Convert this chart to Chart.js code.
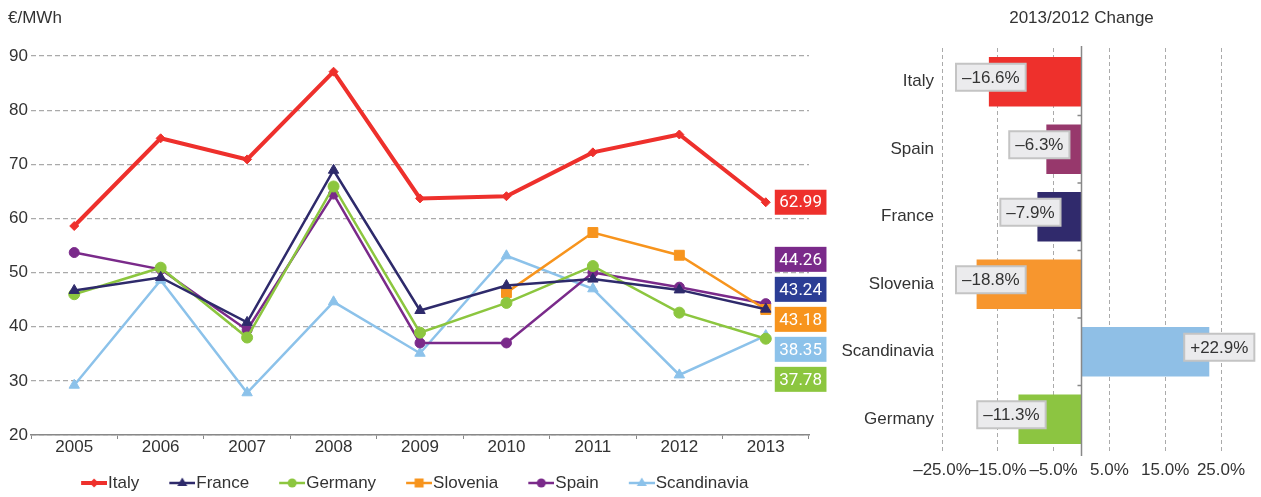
<!DOCTYPE html>
<html>
<head>
<meta charset="utf-8">
<script src="https://cdn.jsdelivr.net/npm/chart.js@4.4.1/dist/chart.umd.min.js"></script>
<style>
  html, body { margin: 0; padding: 0; background: #fff; }
  #wrap { position: relative; width: 1261px; height: 497px; }
  #priceBox { position: absolute; left: 0; top: 0; width: 830px; height: 497px; }
  #changeBox { position: absolute; left: 830px; top: 0; width: 431px; height: 497px; }
</style>
</head>
<body>
<div id="wrap">
  <div id="priceBox"><canvas id="priceChart"></canvas></div>
  <div id="changeBox"><canvas id="changeChart"></canvas></div>
</div>
<script>
// Prices, EUR/MWh
var years = ["2005", "2006", "2007", "2008", "2009", "2010", "2011", "2012", "2013"];
var italy = [58.6, 74.8, 70.9, 87.1, 63.7, 64.1, 72.2, 75.5, 62.99];
var france = [46.7, 49.1, 40.8, 68.9, 43.0, 47.6, 48.8, 46.8, 43.24];
var germany = [46.0, 50.9, 38.0, 65.9, 38.9, 44.4, 51.2, 42.6, 37.78];
var slovenia = [null, null, null, null, null, 46.3, 57.4, 53.2, 43.18];
var spain = [53.7, 50.6, 39.4, 64.5, 37.0, 37.0, 50.0, 47.3, 44.26];
var scandinavia = [29.2, 48.6, 27.8, 44.6, 35.1, 53.1, 47.0, 31.1, 38.35];

// 2013/2012 change, %
var changeCountries = ["Italy", "Spain", "France", "Slovenia", "Scandinavia", "Germany"];
var changeValues = [-16.6, -6.3, -7.9, -18.8, 22.9, -11.3];
var changeTicks = [-25, -15, -5, 5, 15, 25];

var lineColors = ["#ee302c", "#2e2a6b", "#8cc63f", "#f7941d", "#7a2a8a", "#8cc2ea"];
var tagColors = ["#ee302c", "#2b3d95", "#8cc63f", "#f7941d", "#7a2a8a", "#8cc2ea"];
var barColors = ["#ee302c", "#97386c", "#302a6c", "#f7962e", "#8fbfe6", "#8cc541"];

Chart.defaults.font.family = "'Liberation Sans', Arial, sans-serif";
Chart.defaults.font.size = 17;
Chart.defaults.color = "#333";

// legend icon: line with marker, blank lead on the left for item spacing
function legendIcon(color, style, lw) {
  var lead = 20;
  var c = document.createElement("canvas");
  c.width = 26 + lead;
  c.height = 14;
  var g = c.getContext("2d");
  var m = lead + 13;
  g.strokeStyle = color;
  g.fillStyle = color;
  g.lineWidth = lw;
  g.beginPath();
  g.moveTo(lead, 7);
  g.lineTo(lead + 26, 7);
  g.stroke();
  g.beginPath();
  if (style === "circle") {
    g.arc(m, 7, 4.5, 0, Math.PI * 2);
  } else if (style === "triangle") {
    g.moveTo(m, 1.5);
    g.lineTo(m + 5, 10);
    g.lineTo(m - 5, 10);
  } else if (style === "rect") {
    g.rect(m - 4.5, 2.5, 9, 9);
  } else {
    g.moveTo(m, 2.5);
    g.lineTo(m + 4.5, 7);
    g.lineTo(m, 11.5);
    g.lineTo(m - 4.5, 7);
  }
  g.closePath();
  g.fill();
  return c;
}

function series(label, data, i, style, radius, width) {
  return {
    label: label,
    data: data,
    borderColor: lineColors[i],
    backgroundColor: lineColors[i],
    pointBackgroundColor: lineColors[i],
    pointBorderColor: lineColors[i],
    pointStyle: style,
    pointRadius: radius,
    pointBorderWidth: 1,
    borderWidth: width,
    tension: 0,
    spanGaps: false,
    icon: legendIcon(lineColors[i], style, width)
  };
}

// end-of-line value tags, pushed apart so they do not overlap
var endLabels = {
  id: "endLabels",
  afterDatasetsDraw: function (chart) {
    var ctx = chart.ctx;
    var items = chart.data.datasets.map(function (ds, i) {
      var pts = chart.getDatasetMeta(i).data;
      var last = pts[pts.length - 1];
      return { v: ds.data[ds.data.length - 1], x: last.x, y: last.y, color: tagColors[i] };
    });
    items.sort(function (a, b) { return a.y - b.y; });
    var gap = 30;
    for (var k = 0; k < 200; k++) {
      for (var j = 1; j < items.length; j++) {
        var d = items[j].y - items[j - 1].y;
        if (d < gap) {
          var push = (gap - d) / 2;
          items[j].y += push;
          items[j - 1].y -= push;
        }
      }
    }
    ctx.save();
    ctx.font = "17px Roboto";
    ctx.textBaseline = "middle";
    items.forEach(function (it) {
      var text = it.v.toFixed(2);
      var w = ctx.measureText(text).width + 9;
      var left = it.x + 9;
      ctx.fillStyle = it.color;
      ctx.fillRect(left, it.y - 12.5, w, 25);
      ctx.fillStyle = "#fff";
      ctx.fillText(text, left + 4.5, it.y + 1);
    });
    ctx.restore();
  }
};

var priceCtx = document.getElementById("priceChart").getContext("2d");
var priceChart = new Chart(priceCtx, {
  type: "line",
  data: {
    labels: years,
    datasets: [
      series("Italy", italy, 0, "rectRot", 4.5, 4),
      series("France", france, 1, "triangle", 6, 2.5),
      series("Germany", germany, 2, "circle", 5.5, 2.5),
      series("Slovenia", slovenia, 3, "rect", 7, 2.5),
      series("Spain", spain, 4, "circle", 5, 2.5),
      series("Scandinavia", scandinavia, 5, "triangle", 6, 2.5)
    ]
  },
  options: {
    responsive: true,
    maintainAspectRatio: false,
    animation: false,
    layout: { padding: { left: 8, right: 21, top: 0, bottom: 0 } },
    plugins: {
      tooltip: { enabled: false },
      title: {
        display: true,
        text: "€/MWh",
        align: "start",
        color: "#333",
        font: { size: 17, weight: "normal" },
        padding: { top: 8, bottom: 27.6 }
      },
      legend: {
        position: "bottom",
        maxHeight: 40,
        labels: {
          usePointStyle: true,
          pointStyleWidth: 31,
          padding: 17.5,
          color: "#333",
          font: { size: 17 },
          generateLabels: function (chart) {
            return chart.data.datasets.map(function (ds, i) {
              return {
                text: ds.label,
                fillStyle: ds.borderColor,
                strokeStyle: ds.borderColor,
                lineWidth: 0,
                pointStyle: ds.icon,
                hidden: false,
                datasetIndex: i,
                fontColor: "#333"
              };
            });
          }
        }
      }
    },
    scales: {
      x: {
        offset: true,
        grid: { offset: true, drawOnChartArea: false, drawTicks: true, tickLength: 4, color: "#888" },
        border: { display: true, color: "#888", width: 1.5 },
        ticks: { padding: 0, color: "#333", font: { size: 17, lineHeight: 1 } },
        afterFit: function (scale) { scale.height = 22; }
      },
      y: {
        min: 20,
        max: 90,
        ticks: { stepSize: 10, padding: 3, color: "#333", font: { size: 17 } },
        grid: { color: "#aaa", drawTicks: false, lineWidth: 1.2 },
        border: { display: false, dash: [5, 3] },
        afterFit: function (scale) { scale.width = 23; }
      }
    }
  },
  plugins: [endLabels]
});

// zero line with category tick marks
var zeroLine = {
  id: "zeroLine",
  afterDatasetsDraw: function (chart) {
    var ctx = chart.ctx;
    var xs = chart.scales.x;
    var ys = chart.scales.y;
    var x0 = xs.getPixelForValue(0);
    ctx.save();
    ctx.strokeStyle = "#888";
    ctx.lineWidth = 1.5;
    ctx.beginPath();
    ctx.moveTo(x0, chart.chartArea.top - 2);
    ctx.lineTo(x0, chart.chartArea.bottom + 3);
    for (var i = 1; i < changeCountries.length; i++) {
      var y = (ys.getPixelForValue(i - 1) + ys.getPixelForValue(i)) / 2;
      ctx.moveTo(x0 - 4, y);
      ctx.lineTo(x0, y);
    }
    ctx.stroke();
    ctx.restore();
  }
};

var barLabels = {
  id: "barLabels",
  afterDatasetsDraw: function (chart) {
    var ctx = chart.ctx;
    var meta = chart.getDatasetMeta(0);
    ctx.save();
    ctx.font = "17px 'Liberation Sans'";
    ctx.textAlign = "center";
    ctx.textBaseline = "middle";
    meta.data.forEach(function (bar, i) {
      var v = changeValues[i];
      var text = (v > 0 ? "+" : "\u2013") + Math.abs(v).toFixed(1) + "%";
      var w = ctx.measureText(text).width + 12;
      var h = 27;
      var cx = bar.x + (v > 0 ? 10 : -7);
      // keep the tag clear of the category names
      cx = Math.max(cx, chart.chartArea.left + 14 + w / 2);
      var cy = bar.y - 4.5;
      ctx.fillStyle = "#ebebed";
      ctx.fillRect(cx - w / 2, cy - h / 2, w, h);
      ctx.strokeStyle = "#c4c4c4";
      ctx.lineWidth = 2;
      ctx.strokeRect(cx - w / 2, cy - h / 2, w, h);
      ctx.fillStyle = "#333";
      ctx.fillText(text, cx, cy + 1);
    });
    ctx.restore();
  }
};

var changeCtx = document.getElementById("changeChart").getContext("2d");
var changeChart = new Chart(changeCtx, {
  type: "bar",
  data: {
    labels: changeCountries,
    datasets: [
      {
        data: changeValues,
        backgroundColor: barColors,
        borderWidth: 0,
        barPercentage: 0.73,
        categoryPercentage: 1
      }
    ]
  },
  options: {
    indexAxis: "y",
    responsive: true,
    maintainAspectRatio: false,
    animation: false,
    layout: { padding: { left: 0, right: 40, top: 0, bottom: 0 } },
    plugins: {
      legend: { display: false },
      tooltip: { enabled: false },
      title: {
        display: true,
        text: "2013/2012 Change",
        fullSize: false,
        color: "#333",
        font: { size: 17, weight: "normal" },
        padding: { top: 8, bottom: 19.6 }
      }
    },
    scales: {
      x: {
        min: -25,
        max: 25,
        afterBuildTicks: function (scale) {
          scale.ticks = changeTicks.map(function (v) { return { value: v }; });
        },
        ticks: {
          autoSkip: false,
          maxRotation: 0,
          padding: 8.5,
          color: "#333",
          font: { size: 17, lineHeight: 1 },
          callback: function (v) {
            return (v < 0 ? "\u2013" : "") + Math.abs(v).toFixed(1) + "%";
          }
        },
        grid: { color: "#aaa", drawTicks: false },
        border: { display: false, dash: [4, 3] },
        afterFit: function (scale) { scale.height = 44; }
      },
      y: {
        grid: { display: false, drawTicks: false },
        border: { display: false },
        ticks: { padding: 8, color: "#333", font: { size: 17 } },
        afterFit: function (scale) { scale.width = 112; }
      }
    }
  },
  plugins: [zeroLine, barLabels]
});
</script>
</body>
</html>
